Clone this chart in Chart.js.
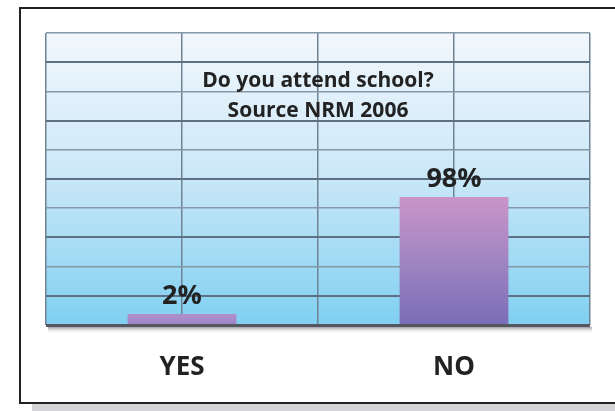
<!DOCTYPE html>
<html lang="en">
<head>
    <meta charset="UTF-8">
    <title>Do you attend school?</title>
    <style>
        body {
            margin: 0;
            background-color: #ffffff;
            overflow: hidden;
        }
        .frame {
            position: absolute;
            left: 19px;
            top: 7px;
            width: 640px;
            height: 393px;
            border: 2.5px solid #222;
            background-color: #fff;
        }
        .shadow {
            position: absolute;
            left: 32px;
            top: 404px;
            width: 600px;
            height: 10px;
            background-color: #d4d4d6;
        }
        .chart-box {
            position: absolute;
            left: 0;
            top: 0;
            width: 615px;
            height: 411px;
        }
    </style>
    <script src="https://cdn.jsdelivr.net/npm/chart.js"></script>
</head>
<body>
    <div class="shadow"></div>
    <div class="frame"></div>
    <div class="chart-box">
        <canvas id="schoolChart" width="615" height="411"></canvas>
    </div>

    <script>
        const categories = ['YES', 'NO'];
        const percentages = [2, 98];
        const titleLines = ['Do you attend school?', 'Source NRM 2006'];

        const FONT = '"Open Sans", "DejaVu Sans", sans-serif';
        const BAR_BASE = -7;

        // blue panel behind the bars, plus the dark floor edge under it
        const panelPlugin = {
            id: 'panel',
            beforeDraw(chart) {
                const { ctx, chartArea: a } = chart;
                const g = ctx.createLinearGradient(0, a.top, 0, a.bottom);
                g.addColorStop(0, '#f2f7fc');
                g.addColorStop(0.45, '#cfe9f8');
                g.addColorStop(1, '#80d0f1');
                ctx.save();
                ctx.fillStyle = g;
                ctx.fillRect(a.left, a.top, a.right - a.left, a.bottom - a.top);
                ctx.restore();
            },
            afterDraw(chart) {
                const { ctx, chartArea: a } = chart;
                ctx.save();
                ctx.fillStyle = '#55575f';
                ctx.fillRect(a.left, a.bottom - 1, a.right - a.left, 3);
                const s = ctx.createLinearGradient(0, a.bottom + 2, 0, a.bottom + 9);
                s.addColorStop(0, 'rgba(90,80,95,0.55)');
                s.addColorStop(1, 'rgba(255,255,255,0)');
                ctx.fillStyle = s;
                ctx.fillRect(a.left + 2, a.bottom + 2, a.right - a.left, 7);
                ctx.restore();
            }
        };

        // title text sitting inside the panel, and the % labels over each bar
        const textPlugin = {
            id: 'texts',
            afterDatasetsDraw(chart) {
                const { ctx, chartArea: a } = chart;
                const cx = (a.left + a.right) / 2;
                ctx.save();
                ctx.fillStyle = '#222';
                ctx.textAlign = 'center';
                ctx.textBaseline = 'alphabetic';
                ctx.font = 'bold 21px ' + FONT;
                ctx.fillText(titleLines[0], cx, 87);
                ctx.fillText(titleLines[1], cx, 117);

                ctx.font = 'bold 27px ' + FONT;
                const meta = chart.getDatasetMeta(0);
                meta.data.forEach((bar, i) => {
                    ctx.fillText(percentages[i] + '%', bar.x, bar.y - 10);
                });
                ctx.restore();
            }
        };

        function barFill(context) {
            const chart = context.chart;
            const y = chart.scales.y;
            if (!chart.chartArea || !y) return '#9b86c4';
            const top = y.getPixelForValue(context.raw);
            const bottom = y.getPixelForValue(BAR_BASE);
            const g = chart.ctx.createLinearGradient(0, top, 0, bottom);
            if (bottom - top < 30) {
                g.addColorStop(0, '#b190ca');
                g.addColorStop(1, '#9c86c6');
            } else {
                g.addColorStop(0, '#c994c8');
                g.addColorStop(0.5, '#a085c2');
                g.addColorStop(1, '#7a6db8');
            }
            return g;
        }

        const ctx = document.getElementById('schoolChart').getContext('2d');
        const schoolChart = new Chart(ctx, {
            type: 'bar',
            data: {
                labels: categories,
                datasets: [{
                    data: percentages,
                    base: BAR_BASE,
                    backgroundColor: barFill,
                    borderWidth: 0,
                    barPercentage: 0.4,
                    categoryPercentage: 1
                }]
            },
            options: {
                responsive: false,
                animation: false,
                layout: {
                    padding: { left: 46, right: 25, top: 33, bottom: 0 }
                },
                plugins: {
                    legend: { display: false },
                    tooltip: { enabled: false }
                },
                scales: {
                    x: {
                        position: 'bottom',
                        grid: { display: false },
                        border: { display: false },
                        ticks: {
                            color: '#222',
                            padding: 19,
                            font: { family: FONT, size: 26, weight: 'bold' }
                        },
                        afterFit(scale) { scale.height = 86; }
                    },
                    // four columns: one line through each bar and one between them
                    // (offset off, otherwise the bar-chart index defaults shift it)
                    x2: {
                        type: 'linear',
                        position: 'bottom',
                        offset: false,
                        min: 0,
                        max: 4,
                        ticks: { display: false, count: 5 },
                        grid: {
                            offset: false,
                            color: '#6f8394',
                            lineWidth: 1.5,
                            drawTicks: false
                        },
                        border: { display: false },
                        afterFit(scale) { scale.height = 0; }
                    },
                    y: {
                        min: BAR_BASE,
                        max: 232.6,
                        ticks: { display: false, count: 11 },
                        grid: {
                            color: (c) => c.index % 2 === 1 ? '#5d7183' : '#8497a6',
                            lineWidth: (c) => c.index % 2 === 1 ? 2 : 1.5,
                            drawTicks: false
                        },
                        border: { display: false },
                        afterFit(scale) { scale.width = 0; }
                    }
                }
            },
            plugins: [panelPlugin, textPlugin]
        });
    </script>
</body>
</html>
